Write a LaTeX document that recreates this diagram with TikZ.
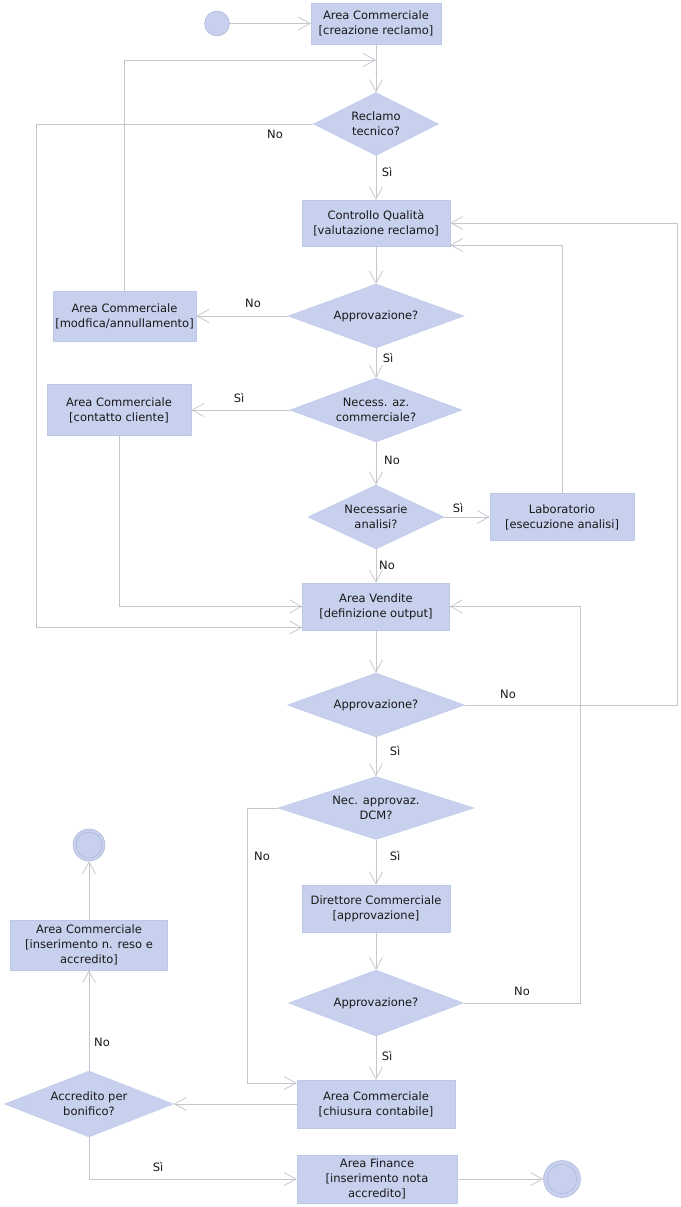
\documentclass[tikz,border=0pt]{standalone}
\usepackage{fontspec}
\setmainfont{DejaVu Sans}
\usetikzlibrary{shapes.geometric, arrows.meta}

\definecolor{boxfill}{RGB}{199,208,236}
\definecolor{boxline}{RGB}{189,199,231}
\definecolor{ringline}{RGB}{165,176,216}
\definecolor{flowline}{RGB}{197,197,205}
\definecolor{textcol}{RGB}{25,25,25}

\begin{document}
\begin{tikzpicture}[x=1pt, y=-1pt,
  every node/.style={font=\fontsize{11.5}{15}\selectfont, text=textcol},
  box/.style={rectangle, draw=boxline, fill=boxfill, align=center, inner sep=0pt},
  dia/.style={diamond, draw=boxline, fill=boxfill, align=center, inner sep=0pt, aspect=3},
  startnode/.style={circle, draw=ringline, fill=boxfill, inner sep=0pt, minimum size=25pt},
  endnode/.style={circle, draw=ringline, fill=boxfill, inner sep=0pt,
    path picture={\draw[ringline] (path picture bounding box.center) circle (#1);}},
  flow/.style={draw=flowline, line width=0.75pt, -{Straight Barb[length=12pt,width=13pt]}}]
\useasboundingbox (0,0) rectangle (680,1207);

% rails for the long return lines
\coordinate (leftRail) at (36,0);
\coordinate (dcmRail) at (247,0);
\coordinate (midRail) at (580,0);
\coordinate (rightRail) at (677,0);
\coordinate (joinTop) at (376,60);

\node[startnode] (start) at (217,23.5) {};
\node[box, minimum width=130pt, minimum height=41pt] (crea) at (376,23.5) {Area Commerciale\\{}[creazione reclamo]};
\node[dia, aspect=2.5, minimum width=125pt, minimum height=63pt] (recl) at (376,124) {Reclamo\\tecnico?};
\node[box, minimum width=148pt, minimum height=46pt] (cq) at (376,223) {Controllo Qualità\\{}[valutazione reclamo]};
\node[dia, minimum width=176pt, minimum height=64pt] (appr1) at (376,316) {Approvazione?};
\node[box, minimum width=143pt, minimum height=50pt] (modi) at (124.5,316) {Area Commerciale\\{}[modfica/annullamento]};
\node[dia, minimum width=172pt, minimum height=64pt] (necAz) at (376,410) {Necess. az.\\commerciale?};
\node[box, minimum width=144pt, minimum height=51pt] (cont) at (119,410) {Area Commerciale\\{}[contatto cliente]};
\node[dia, minimum width=136pt, minimum height=64pt] (analisi) at (376,517) {Necessarie\\analisi?};
\node[box, minimum width=144pt, minimum height=47pt] (lab) at (562,517) {Laboratorio\\{}[esecuzione analisi]};
\node[box, minimum width=147pt, minimum height=47pt] (vend) at (376,606.5) {Area Vendite\\{}[definizione output]};
\node[dia, minimum width=177pt, minimum height=64pt] (appr2) at (376,705) {Approvazione?};
\node[dia, minimum width=196pt, minimum height=63pt] (dcm) at (376,808) {Nec. approvaz.\\DCM?};
\node[box, minimum width=148pt, minimum height=47pt] (dir) at (376,908.5) {Direttore Commerciale\\{}[approvazione]};
\node[dia, minimum width=175pt, minimum height=66pt] (appr3) at (376,1003) {Approvazione?};
\node[box, minimum width=158pt, minimum height=48pt] (chiu) at (376,1104) {Area Commerciale\\{}[chiusura contabile]};
\node[dia, minimum width=169pt, minimum height=66pt] (bonif) at (89,1104) {Accredito per\\bonifico?};
\node[box, minimum width=157pt, minimum height=50pt] (inser) at (89,945) {Area Commerciale\\{}[inserimento n. reso e\\accredito]};
\node[endnode=13pt, minimum size=32pt] (fine1) at (89,845) {};
\node[box, minimum width=160pt, minimum height=48pt] (fin) at (377,1179) {Area Finance\\{}[inserimento nota\\accredito]};
\node[endnode=14.5pt, minimum size=37pt] (fine2) at (562,1179) {};

\draw[flow] (start) -- (crea);
\draw[flow] (crea) -- (recl);
\draw[flow] (modi) |- (joinTop);
\draw[flow] (recl.west) -- (recl.west -| leftRail) |- ([yshift=-21pt]vend.west);
\draw[flow] (recl) -- (cq);
\draw[flow] (cq) -- (appr1);
\draw[flow] (appr1) -- (modi);
\draw[flow] (appr1) -- (necAz);
\draw[flow] (necAz) -- (cont);
\draw[flow] (cont) |- (vend.west);
\draw[flow] (necAz) -- (analisi);
\draw[flow] (analisi) -- (lab);
\draw[flow] (lab) |- ([yshift=-22pt]cq.east);
\draw[flow] (analisi) -- (vend);
\draw[flow] (vend) -- (appr2);
\draw[flow] (appr2.east) -- (appr2 -| rightRail) |- (cq.east);
\draw[flow] (appr2) -- (dcm);
\draw[flow] (dcm.west) -- (dcm -| dcmRail) |- ([yshift=21pt]chiu.west);
\draw[flow] (dcm) -- (dir);
\draw[flow] (dir) -- (appr3);
\draw[flow] (appr3.east) -- (appr3 -| midRail) |- (vend.east);
\draw[flow] (appr3) -- (chiu);
\draw[flow] (chiu) -- (bonif);
\draw[flow] (bonif) -- (inser);
\draw[flow] (inser) -- (fine1);
\draw[flow] (bonif) |- (fin);
\draw[flow] (fin) -- (fine2);

% guard labels
\node (noRecl) at (275,134) {No};
\node (siRecl) at (387,172) {Sì};
\node (noAppr1) at (253,303) {No};
\node (siAppr1) at (388,358) {Sì};
\node (siNecAz) at (239,398) {Sì};
\node (noNecAz) at (392,460) {No};
\node (siAnalisi) at (458,508) {Sì};
\node (noAnalisi) at (387,565) {No};
\node (noAppr2) at (508,694) {No};
\node (siAppr2) at (395,751) {Sì};
\node (noDcm) at (262,856) {No};
\node (siDcm) at (395,856) {Sì};
\node (noAppr3) at (522,991) {No};
\node (siAppr3) at (387,1056) {Sì};
\node (noBonif) at (102,1042) {No};
\node (siBonif) at (158,1167) {Sì};
\end{tikzpicture}
\end{document}
